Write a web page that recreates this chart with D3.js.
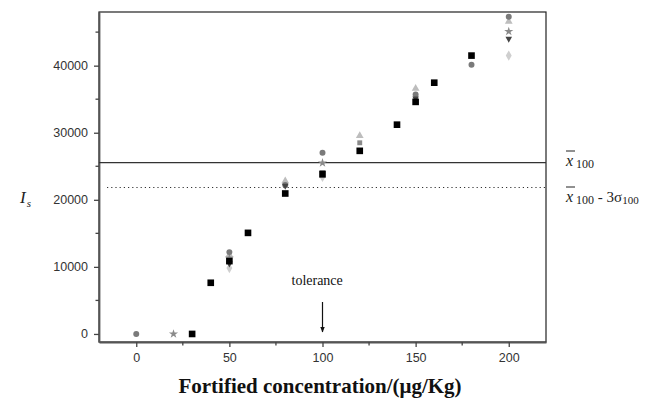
<!DOCTYPE html>
<html><head><meta charset="utf-8">
<script src="https://cdn.jsdelivr.net/npm/d3@7"></script>
<style>body{margin:0;background:#fff}svg{display:block}</style>
</head><body><svg id="c" width="650" height="401"></svg>
<script>
const xTicks = [0, 50, 100, 150, 200];
const yTicks = [0, 10000, 20000, 30000, 40000];
const meanLine = 25550;
const limitLine = 21830;

const squareX = [30, 40, 50, 60, 80, 100, 120, 140, 150, 160, 180];
const squareY = [0, 7630, 10860, 15070, 20940, 23800, 27300, 31200, 34600, 37460, 41500];

const circleX = [0, 50, 80, 100, 150, 180, 200];
const circleY = [0, 12200, 22200, 27000, 35700, 40150, 47300];

const starX = [20, 50, 100, 200];
const starY = [0, 11300, 25500, 45100];

const triDownX = [50, 80, 100, 150, 200];
const triDownY = [10400, 22000, 24000, 35000, 43900];

const triUpX = [50, 80, 120, 150, 200];
const triUpY = [11800, 22800, 29550, 36600, 46600];

const greySquareX = [120];
const greySquareY = [28500];

const diamondX = [50, 100, 200];
const diamondY = [9820, 23400, 41500];

const svg = d3.select("#c");
const L = 99, R = 546, T = 12, B = 342;
const x = d3.scaleLinear().domain([-20, 220]).range([L, R]);
const y = d3.scaleLinear().domain([-1200, 48000]).range([B, T]);

// frame
svg.append("rect").attr("x", L).attr("y", T).attr("width", R - L).attr("height", B - T)
  .attr("fill", "none").attr("stroke", "#222").attr("stroke-width", 1.2);

// axes
const xAxis = d3.axisBottom(x).tickValues(xTicks).tickSize(5).tickPadding(6).tickSizeOuter(0);
const gx = svg.append("g").attr("transform", `translate(0,${B})`).call(xAxis);
const yAxis = d3.axisLeft(y).tickValues(yTicks).tickFormat(d3.format("d")).tickSize(5).tickPadding(6).tickSizeOuter(0);
const gy = svg.append("g").attr("transform", `translate(${L},0)`).call(yAxis);
[gx, gy].forEach(g => {
  g.select(".domain").attr("stroke", "#555").attr("stroke-width", 1.8);
  g.selectAll(".tick line").attr("stroke", "#444").attr("stroke-width", 1.3);
  g.selectAll("text").attr("font-family", "Liberation Sans, Arial, sans-serif")
    .attr("font-size", 12.5).attr("fill", "#333");
});
// minor ticks
svg.append("g").selectAll("line").data([25, 75, 125, 175]).join("line")
  .attr("x1", d => x(d)).attr("x2", d => x(d)).attr("y1", B).attr("y2", B + 3.5)
  .attr("stroke", "#444").attr("stroke-width", 1.3);
svg.append("g").selectAll("line").data([5000, 15000, 25000, 35000, 45000]).join("line")
  .attr("x1", L).attr("x2", L - 3.5).attr("y1", d => y(d)).attr("y2", d => y(d))
  .attr("stroke", "#444").attr("stroke-width", 1.3);

// reference lines
svg.append("line").attr("x1", L).attr("x2", R).attr("y1", y(meanLine)).attr("y2", y(meanLine))
  .attr("stroke", "#333").attr("stroke-width", 1.3);
svg.append("line").attr("x1", L + 8).attr("x2", R).attr("y1", y(limitLine)).attr("y2", y(limitLine))
  .attr("stroke", "#333").attr("stroke-width", 1.1).attr("stroke-dasharray", "1.2,3");

// points
function plot(xs, ys, type, size, color) {
  const sym = d3.symbol().type(type).size(size);
  svg.append("g").selectAll("path").data(xs.map((v, i) => [v, ys[i]])).join("path")
    .attr("d", sym).attr("transform", d => `translate(${x(d[0])},${y(d[1])})`)
    .attr("fill", color);
}
const triDownSym = { draw(ctx, s) { const r = Math.sqrt(s) * 0.6; ctx.moveTo(-r, -r * 0.8); ctx.lineTo(r, -r * 0.8); ctx.lineTo(0, r); ctx.closePath(); } };
plot(diamondX, diamondY, d3.symbolDiamond, 30, "#cfcfcf");
plot(triUpX, triUpY, d3.symbolTriangle, 26, "#bdbdbd");
plot(starX, starY, d3.symbolStar, 26, "#8a8a8a");
plot(circleX, circleY, d3.symbolCircle, 28, "#7a7a7a");
plot(greySquareX, greySquareY, d3.symbolSquare, 24, "#8a8a8a");
plot(triDownX, triDownY, triDownSym, 30, "#444");
plot(squareX, squareY, d3.symbolSquare, 44, "#000");

// tolerance annotation
const serif = "Liberation Serif, Times New Roman, serif";
svg.append("text").attr("x", x(100) - 31).attr("y", 285).attr("font-family", serif)
  .attr("font-size", 14).attr("fill", "#111").text("tolerance");
svg.append("defs").append("marker").attr("id", "ah").attr("viewBox", "0 0 10 10").attr("refX", 9).attr("refY", 5)
  .attr("markerWidth", 5).attr("markerHeight", 6).attr("orient", "auto")
  .append("path").attr("d", "M0,1 L10,5 L0,9 z").attr("fill", "#111");
svg.append("line").attr("x1", x(100)).attr("x2", x(100)).attr("y1", 302).attr("y2", 332)
  .attr("stroke", "#111").attr("stroke-width", 1.2).attr("marker-end", "url(#ah)");

// right labels
function xbarLabel(yb) {
  const t = svg.append("text").attr("x", 566).attr("y", yb).attr("font-family", serif).attr("font-size", 16).attr("fill", "#222");
  t.append("tspan").attr("font-style", "italic").text("x");
  svg.append("line").attr("x1", 566).attr("x2", 575).attr("y1", yb - 15).attr("y2", yb - 15).attr("stroke", "#222").attr("stroke-width", 1);
  return t;
}
const l1 = xbarLabel(166);
l1.append("tspan").attr("font-size", 12).attr("dx", 3).attr("dy", 2).text("100");
const l2 = xbarLabel(202);
l2.append("tspan").attr("font-size", 12).attr("dx", 3).attr("dy", 2).text("100");
l2.append("tspan").attr("font-size", 15).attr("dy", -2).text(" - 3σ");
l2.append("tspan").attr("font-size", 11).attr("dy", 2).text("100");

// y label
const yl = svg.append("text").attr("x", 20).attr("y", 203).attr("font-family", serif).attr("font-size", 17).attr("fill", "#222");
yl.append("tspan").attr("font-style", "italic").text("I");
yl.append("tspan").attr("font-style", "italic").attr("font-size", 11).attr("dy", 4).attr("dx", 1).text("s");

// x title
svg.append("text").attr("x", 320).attr("y", 393).attr("text-anchor", "middle").attr("font-family", serif)
  .attr("font-weight", "bold").attr("font-size", 21).attr("fill", "#111").text("Fortified concentration/(μg/Kg)");
</script></body></html>
